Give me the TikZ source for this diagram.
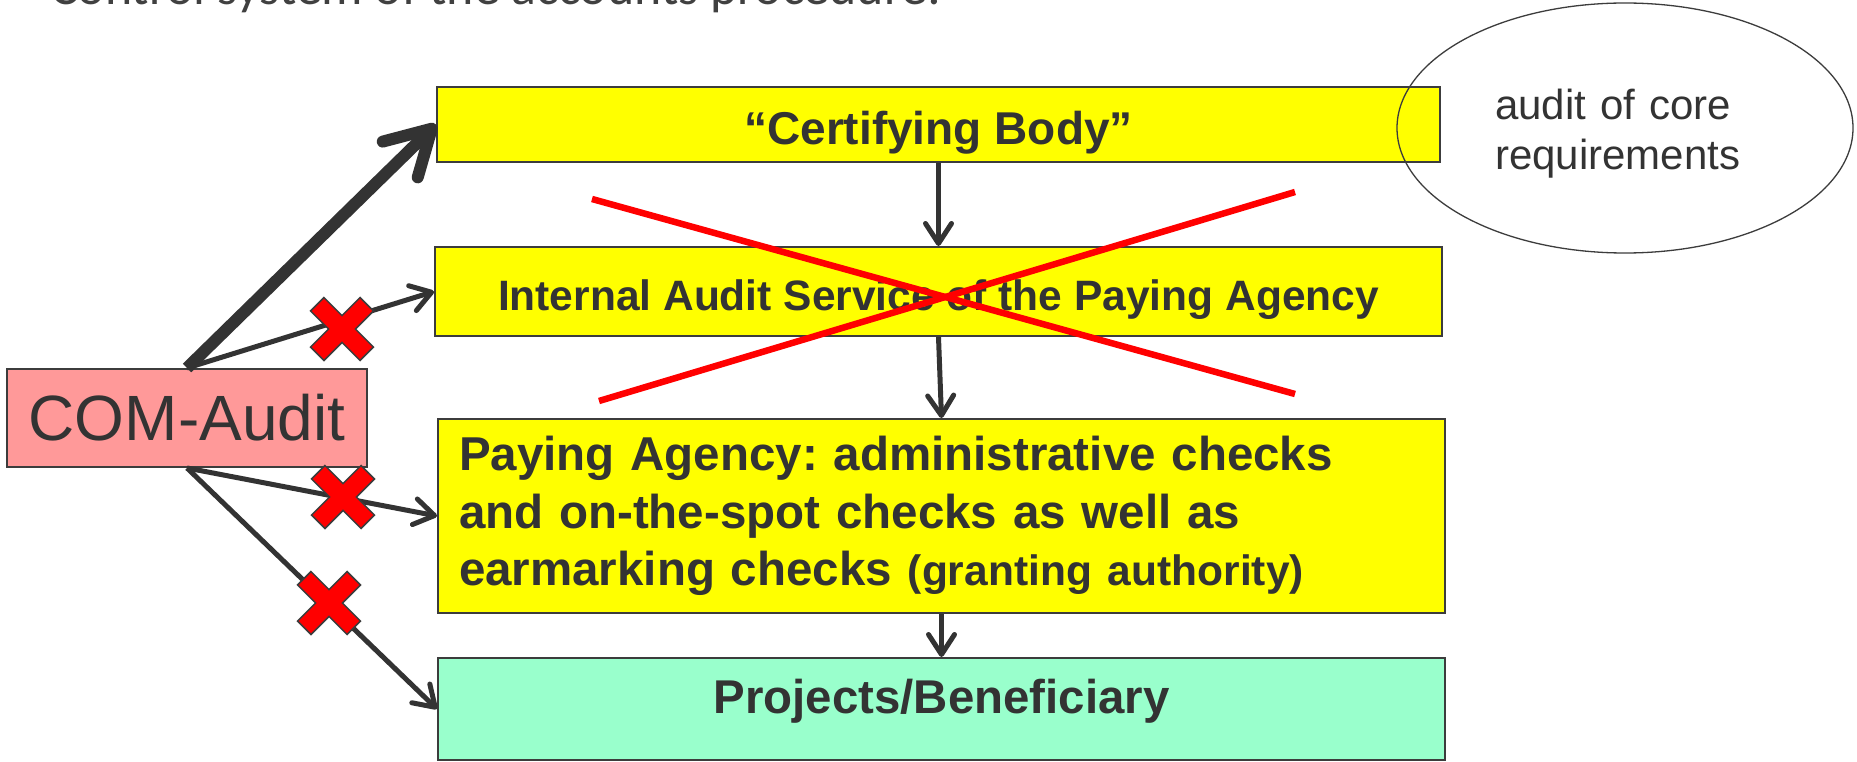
\documentclass[tikz,border=0pt]{standalone}
\usepackage{fontspec}
\usepackage{graphicx}
\setmainfont{Liberation Sans}
\newfontfamily\topfont{Carlito}
\usetikzlibrary{arrows.meta,shapes.geometric}
\definecolor{txt}{HTML}{333333}
\definecolor{edge}{HTML}{3C3C3C}
\definecolor{topgray}{HTML}{404040}
\definecolor{ybox}{HTML}{FFFF00}
\definecolor{gbox}{HTML}{99FFCC}
\definecolor{pbox}{HTML}{FF9999}
\definecolor{xred}{HTML}{FF0000}
\frenchspacing
\tikzset{
  box/.style={draw=edge, line width=2pt, inner sep=0pt, text=txt},
  flow/.style={draw=txt, line width=5pt, -{Straight Barb[length=20pt,width=26pt,round]}},
  bigflow/.style={draw=txt, line width=12pt, line cap=butt, -{Straight Barb[length=44pt,width=50pt,round]}},
  strike/.style={draw=xred, line width=6.5pt},
  redx/.pic={\filldraw[fill=xred, draw=edge, line width=1.5pt, rotate=45]
    (-9.5,-35)--(9.5,-35)--(9.5,-9.5)--(35,-9.5)--(35,9.5)--(9.5,9.5)--(9.5,35)--(-9.5,35)
    --(-9.5,9.5)--(-35,9.5)--(-35,-9.5)--(-9.5,-9.5)--cycle;}
}
\begin{document}
\begin{tikzpicture}[x=1pt,y=-1pt]
\useasboundingbox (0,0) rectangle (1857,762);
\fill[white] (0,0) rectangle (1857,762);

\node[anchor=base west, inner sep=0pt, text=topgray] (title) at (50,5)
  {\resizebox{891pt}{!}{\topfont Control system of the accounts procedure:}};

\node[box, fill=ybox, minimum width=1003pt, minimum height=75pt, text height=40pt, text depth=0pt,
  font=\bfseries\fontsize{46}{55}\selectfont] (cert) at (938.5,124.5) {“Certifying Body”};
\node[box, fill=ybox, minimum width=1007pt, minimum height=89pt, text height=37pt, text depth=0pt,
  font=\bfseries\fontsize{42.5}{50}\selectfont] (ia) at (938.5,291.5) {Internal Audit Service of the Paying Agency};
\node[box, fill=ybox, minimum width=1007pt, minimum height=194pt, inner xsep=21pt,
  text width=965pt, align=left,
  font=\bfseries\fontsize{47.5}{57.5}\selectfont] (pa) at (941.5,516)
  {Paying Agency: administrative checks\\and on-the-spot checks as well as\\earmarking checks {\fontsize{42.5}{57.5}\selectfont(granting authority)}};
\node[box, fill=gbox, minimum width=1007pt, minimum height=102pt, text depth=26pt,
  font=\bfseries\fontsize{47.4}{55}\selectfont] (proj) at (941.5,709) {Projects/Beneficiary};
\node[box, fill=pbox, minimum width=360pt, minimum height=98pt,
  font=\fontsize{64}{70}\selectfont] (com) at (187,418) {COM-Audit};

\node[draw=edge, line width=1.3pt, ellipse, minimum width=456pt, minimum height=250pt,
  inner sep=0pt, text width=260pt, align=left, text depth=47pt, text=txt,
  font=\fontsize{42}{50}\selectfont] (core) at (1625,128)
  {audit of core\\requirements};

\draw[flow] (cert.south) -- (ia.north);
\draw[flow] (ia.south) -- (pa.north);
\draw[flow] (pa.south) -- (proj.north);

\draw[bigflow] (com.north) -- (cert.west);
\draw[flow] (com.north) -- (ia.west);
\draw[flow] (com.south) -- (pa.west);
\draw[flow] (com.south) -- (proj.west);

\draw[strike] (592,199) -- (1295,394);
\draw[strike] (599,401) -- (1295,192);

\pic at (342,329) {redx};
\pic at (343,497) {redx};
\pic at (329,603) {redx};
\end{tikzpicture}
\end{document}
